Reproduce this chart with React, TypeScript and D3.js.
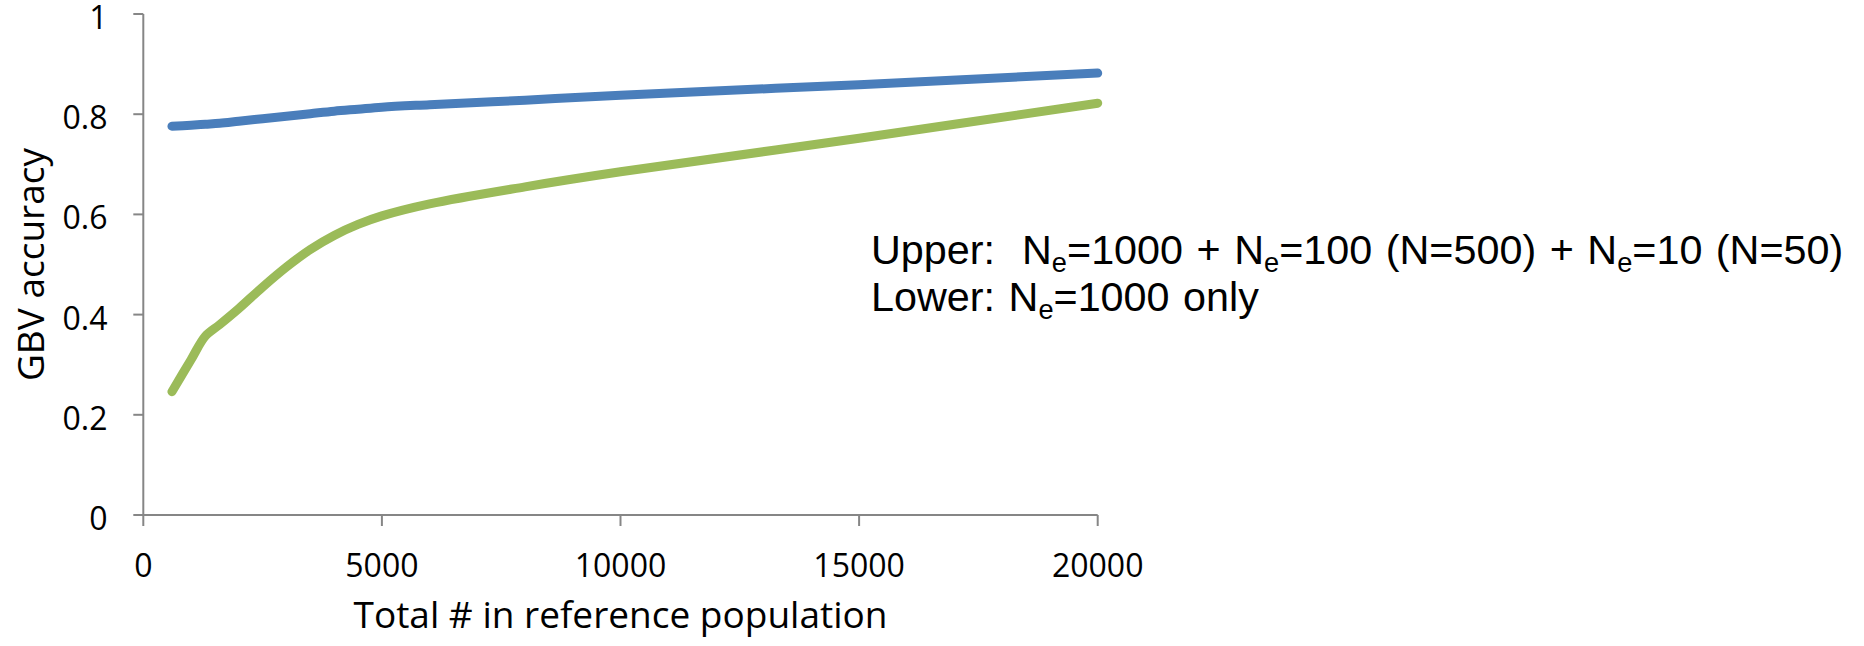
import React, { useLayoutEffect, useRef, useState } from "react";
import * as d3 from "d3";

const xValues = [600, 1000, 1300, 1600, 2000, 2500, 3000, 3500, 4000, 4500, 5000, 6000, 8000, 10000, 15000, 20000];
const upperValues = [0.776, 0.778, 0.78, 0.782, 0.786, 0.791, 0.796, 0.801, 0.806, 0.81, 0.814, 0.819, 0.828, 0.838, 0.859, 0.882];
const lowerValues = [0.246, 0.31, 0.357, 0.38, 0.412, 0.455, 0.495, 0.53, 0.558, 0.58, 0.597, 0.621, 0.655, 0.685, 0.752, 0.822];
const xTicks = [0, 5000, 10000, 15000, 20000];
const yTicks = [0, 0.2, 0.4, 0.6, 0.8, 1];
const xTitle = "Total # in reference population";
const yTitle = "GBV accuracy";

const W = 1864;
const H = 646;
const left = 143.3;
const right = 1097.7;
const top = 14;
const bottom = 515;

export default function App() {
  const x = d3.scaleLinear().domain([0, 20000]).range([left, right]);
  const y = d3.scaleLinear().domain([0, 1]).range([bottom, top]);
  const line = d3
    .line<[number, number]>()
    .x((d) => x(d[0]))
    .y((d) => y(d[1]))
    .curve(d3.curveCatmullRom.alpha(0.5));
  const upper = line(xValues.map((v, i) => [v, upperValues[i]]));
  const lower = line(xValues.map((v, i) => [v, lowerValues[i]]));

  const annRef = useRef<SVGGElement>(null);
  const [sx, setSx] = useState(0.85);
  useLayoutEffect(() => {
    if (annRef.current) {
      const t = annRef.current.querySelector("text");
      if (t) {
        const w = (t as SVGTextElement).getBBox().width;
        if (w > 0) setSx(972 / w);
      }
    }
  }, []);

  const axisColor = "#868686";
  const tickFont = "'Open Sans', sans-serif";
  const annFont = "'Liberation Sans', Arial, sans-serif";
  const sub = (s: string) => (
    <>
      <tspan>N</tspan>
      <tspan fontSize={27} dy={8}>e</tspan>
      <tspan dy={-8}>{s}</tspan>
    </>
  );

  return (
    <svg
      width={W}
      height={H}
      style={{ position: "absolute", left: 0, top: 0, background: "#fff" }}
    >
      {/* axes */}
      <line x1={left} x2={left} y1={top} y2={bottom} stroke={axisColor} strokeWidth={2} />
      <line x1={left} x2={right} y1={bottom} y2={bottom} stroke={axisColor} strokeWidth={2} />
      {yTicks.map((t) => (
        <g key={"y" + t}>
          <line x1={left - 10} x2={left} y1={y(t)} y2={y(t)} stroke={axisColor} strokeWidth={2} />
          <text
            x={107.5}
            y={y(t)}
            dy={15}
            textAnchor="end"
            fontFamily={tickFont}
            fontSize={32}
            fill="#000"
          >
            {d3.format("")(t)}
          </text>
        </g>
      ))}
      {xTicks.map((t) => (
        <g key={"x" + t}>
          <line x1={x(t)} x2={x(t)} y1={bottom} y2={bottom + 11} stroke={axisColor} strokeWidth={2} />
          <text
            x={x(t)}
            y={577}
            textAnchor="middle"
            fontFamily={tickFont}
            fontSize={32}
            fill="#000"
          >
            {t}
          </text>
        </g>
      ))}
      <text
        x={(left + right) / 2}
        y={628}
        textAnchor="middle"
        fontFamily={tickFont}
        fontSize={37}
        fill="#000"
      >
        {xTitle}
      </text>
      <text
        transform={`translate(44, ${(top + bottom) / 2}) rotate(-90)`}
        textAnchor="middle"
        fontFamily={tickFont}
        fontSize={37}
        fill="#000"
      >
        {yTitle}
      </text>

      {/* series */}
      <path d={lower ?? ""} fill="none" stroke="#9BBB59" strokeWidth={9} strokeLinecap="round" strokeLinejoin="round" />
      <path d={upper ?? ""} fill="none" stroke="#4A7EBB" strokeWidth={9} strokeLinecap="round" strokeLinejoin="round" />

      {/* annotation */}
      <g ref={annRef} transform={`translate(871, 0) scale(${sx}, 1)`}>
        <text x={0} y={264} fontFamily={annFont} fontSize={41} wordSpacing={2} fill="#000" style={{ whiteSpace: "pre" }}>
          <tspan>{"Upper:  "}</tspan>
          {sub("=1000 + ")}
          {sub("=100 (N=500) + ")}
          {sub("=10 (N=50)")}
        </text>
        <text x={0} y={311} fontFamily={annFont} fontSize={41} wordSpacing={2} fill="#000" style={{ whiteSpace: "pre" }}>
          <tspan>{"Lower: "}</tspan>
          {sub("=1000 only")}
        </text>
      </g>
    </svg>
  );
}
